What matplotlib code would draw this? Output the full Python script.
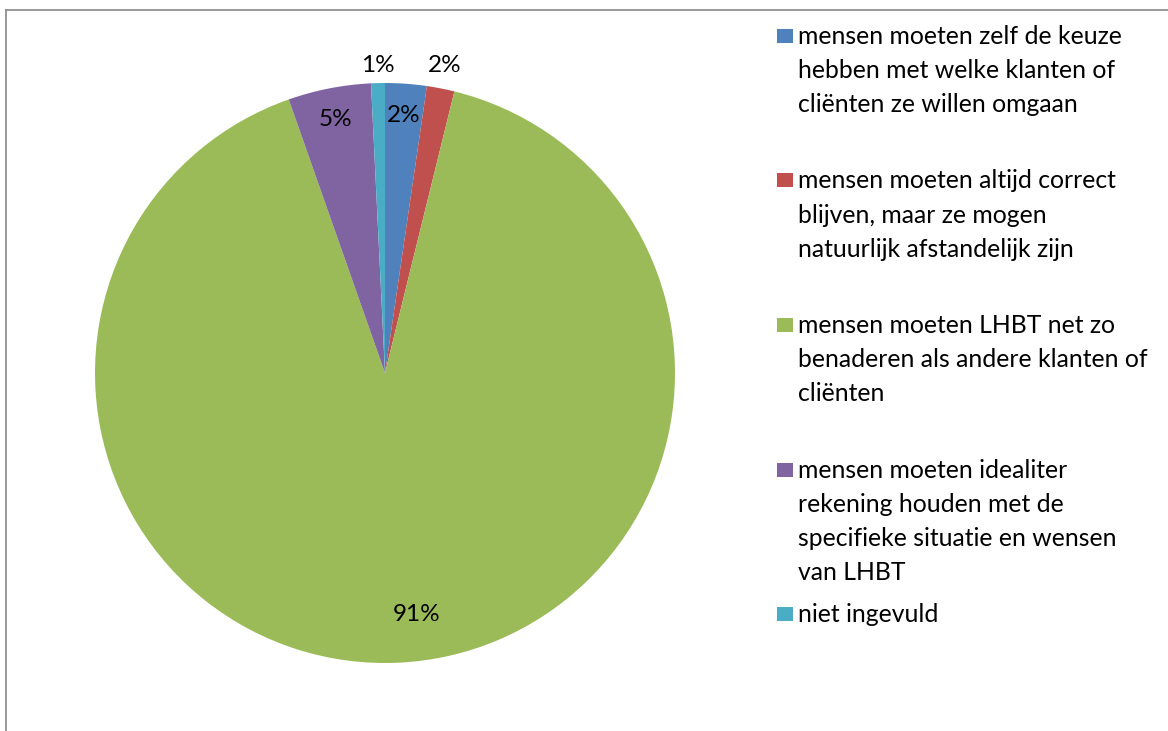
import numpy as np
import matplotlib
matplotlib.use("Agg")
import matplotlib.pyplot as plt
from matplotlib.patches import Rectangle
from matplotlib.lines import Line2D

plt.rcParams['font.family'] = ['Lato', 'DejaVu Sans']

# antwoorden (aantallen)
categorieen = [
    "mensen moeten zelf de keuze\nhebben met welke klanten of\ncliënten ze willen omgaan",
    "mensen moeten altijd correct\nblijven, maar ze mogen\nnatuurlijk afstandelijk zijn",
    "mensen moeten LHBT net zo\nbenaderen als andere klanten of\ncliënten",
    "mensen moeten idealiter\nrekening houden met de\nspecifieke situatie en wensen\nvan LHBT",
    "niet ingevuld",
]
aantallen = [3, 2, 118, 6, 1]
kleuren = ['#4F81BD', '#C0504D', '#9BBB59', '#8064A2', '#4BACC6']

W, H = 1168, 731
fig = plt.figure(figsize=(W / 100, H / 100), dpi=100)

# pie: middelpunt (385, 373) px, straal 290 px
cx, cy, R = 385, 373, 290
half = 300
ax = fig.add_axes([(cx - half) / W, (H - cy - half) / H, 2 * half / W, 2 * half / H])
wedges, _ = ax.pie(aantallen, colors=kleuren, startangle=90, counterclock=False,
                   radius=1.0, wedgeprops=dict(linewidth=0))
ax.set_xlim(-half / R, half / R)
ax.set_ylim(-half / R, half / R)
ax.set_aspect('equal')
ax.axis('off')

# percentage labels
totaal = sum(aantallen)
afstand = [0.89, 1.08, 0.84, 0.89, 1.06]
verschuiving = [0, 0, 4.7, 0, 0]  # graden
for w, n, r, d in zip(wedges, aantallen, afstand, verschuiving):
    hoek = np.deg2rad((w.theta1 + w.theta2) / 2 + d)
    ax.text(r * np.cos(hoek), r * np.sin(hoek), f"{round(100 * n / totaal):.0f}%",
            ha='center', va='center', fontsize=17.5, color='black')

# legenda
leg_x, leg_y0, leg_stap = 777, 36, 144.5
for i, (tekst, kleur) in enumerate(zip(categorieen, kleuren)):
    y = leg_y0 + i * leg_stap
    fig.add_artist(Rectangle((leg_x / W, 1 - (y + 7) / H), 16 / W, 14 / H,
                             transform=fig.transFigure, facecolor=kleur, edgecolor='none'))
    fig.text((leg_x + 21) / W, 1 - (y - 11) / H, tekst, ha='left', va='top',
             fontsize=17.8, linespacing=1.58, color='black')

# rand van het diagramgebied
fig.add_artist(Line2D([6 / W, 1.0], [1 - 9.5 / H, 1 - 9.5 / H], transform=fig.transFigure,
                      color='#888888', linewidth=1.2))
fig.add_artist(Line2D([6 / W, 6 / W], [0, 1 - 9.5 / H], transform=fig.transFigure,
                      color='#888888', linewidth=1.2))

fig.savefig("out.png", dpi=100)
